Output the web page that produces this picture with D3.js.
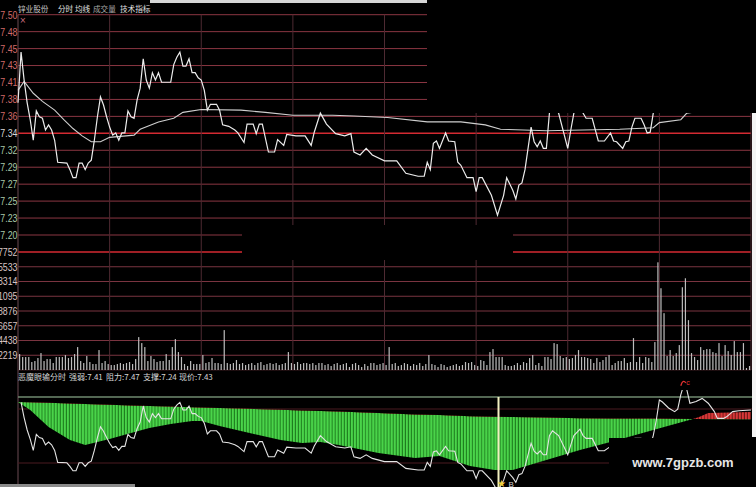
<!DOCTYPE html>
<html><head><meta charset="utf-8">
<script src="https://cdn.jsdelivr.net/npm/d3@7"></script>
<style>
html,body{margin:0;padding:0;background:#000;overflow:hidden;}
svg{display:block;}
</style></head><body>
<svg id="c" width="756" height="487"></svg>
<script>
// ---------------- data ----------------
const titleItems = ["锌业股份","分时","均线","成交量","技术指标"];
const indTitle = ["恶魔眼输分时","强弱:7.41","阻力:7.47","支撑:7.24","现价:7.43"];
const priceLabels = ["7.50","7.48","7.45","7.43","7.41","7.38","7.36","7.34","7.32","7.29","7.27","7.25","7.23","7.20"];
const prevCloseLabel = "7.34";
const volumeTicks = [2219,4438,6657,8876,11095,13314,15533,17752];
const timeTicks = [0,30,60,90,120,150,180,210,240];

const priceMinutes = [0,1,2,3,4,5,6,7,8,9,10,11,12,13,16,17,18,19,20,21,22,23,24,25,26,27,28,29,30,31,32,33,34,35,36,37,38,39,40,41,42,43,44,45,46,47,50,51,52,53,54,55,56,57,58,59,60,61,62,63,65,66,67,69,71,72,74,75,77,78,79,80,82,84,85,87,88,91,94,96,97,99,101,104,107,109,110,112,114,116,120,124,127,131,133,134,135,136,137,138,140,141,143,144,145,147,149,150,151,152,155,157,159,160,162,163,164,165,166,168,169,170,171,172,173,174,175,177,180,181,182,184,185,186,188,190,192,194,195,196,198,199,200,201,202,204,205,206,207,208,209,210,211,213,215,216,217,218,219,220,222,223,224,226,228,229,231,232,234,236,240];
const priceValues = [7.380,7.449,7.411,7.380,7.357,7.329,7.369,7.361,7.359,7.343,7.350,7.343,7.329,7.299,7.298,7.289,7.278,7.278,7.298,7.298,7.289,7.298,7.302,7.329,7.361,7.388,7.377,7.361,7.347,7.336,7.339,7.329,7.339,7.339,7.369,7.361,7.359,7.384,7.400,7.440,7.411,7.400,7.421,7.411,7.421,7.408,7.408,7.432,7.442,7.449,7.430,7.430,7.440,7.421,7.421,7.414,7.411,7.397,7.370,7.378,7.378,7.370,7.350,7.348,7.343,7.339,7.326,7.351,7.351,7.338,7.351,7.351,7.313,7.313,7.330,7.322,7.337,7.335,7.335,7.322,7.340,7.366,7.351,7.338,7.335,7.338,7.313,7.309,7.318,7.309,7.301,7.301,7.284,7.280,7.280,7.299,7.289,7.325,7.328,7.318,7.339,7.328,7.327,7.299,7.295,7.278,7.278,7.259,7.278,7.278,7.254,7.227,7.254,7.278,7.261,7.249,7.268,7.271,7.289,7.347,7.327,7.320,7.328,7.318,7.318,7.366,7.378,7.366,7.318,7.343,7.366,7.382,7.366,7.359,7.359,7.328,7.328,7.339,7.328,7.327,7.318,7.327,7.328,7.347,7.359,7.359,7.350,7.339,7.340,7.366,7.405,7.455,7.450,7.435,7.426,7.432,7.468,7.493,7.480,7.447,7.451,7.455,7.459,7.447,7.426,7.409,7.409,7.413,7.426,7.428,7.430];

const avgMinutes = [0,2,5,8,12,15,18,21,24,27,30,38,40,46,51,54,60,73,81,90,103,110,121,134,145,153,158,173,197,208,210,217,219,230,240];
const avgValues = [7.397,7.409,7.393,7.382,7.370,7.357,7.345,7.335,7.327,7.327,7.333,7.336,7.344,7.354,7.359,7.367,7.371,7.370,7.367,7.363,7.363,7.362,7.360,7.354,7.354,7.350,7.344,7.342,7.344,7.346,7.353,7.357,7.366,7.373,7.377];

const volumes = [
2400,1950,1950,1950,1200,1350,1800,2550,1350,1650,
1650,1050,1950,1950,1950,2250,1800,1950,2400,3450,
1350,1050,2100,1200,900,900,3000,1050,1350,900,
750,750,900,1050,900,1050,1200,900,1650,4950,
4050,3450,1350,2100,1650,1200,1350,1350,2400,1500,
3450,4650,2700,1950,900,600,1350,900,900,
900,2250,1050,1200,1800,1050,1050,900,6000,1050,
900,1050,1500,900,1050,750,900,1050,750,1050,
1200,750,900,1050,900,1050,750,900,1050,2700,
1050,900,1200,900,1050,1050,900,1050,750,1050,
1050,750,900,600,900,1050,750,900,1050,450,
900,1050,750,450,900,600,1050,1050,750,900,
1050,750,3450,900,1050,600,750,1050,900,600,
900,750,1050,600,900,2250,900,750,450,900,
750,450,600,750,900,600,750,1200,1050,1200,
750,600,1500,1350,750,2700,3150,1950,1950,
1950,750,600,600,750,1050,750,1200,1050,1800,
2250,750,1050,600,1950,1950,1650,4050,3900,2100,
1800,1950,1650,1800,2250,3000,1950,1950,1800,1650,
1050,1800,1200,1500,1950,2250,750,1050,1350,1350,
1800,1050,1200,4800,1200,1950,1050,1950,1800,1200,
4200,16200,12300,8550,2100,3000,2100,2550,3750,12450,
13800,7500,2550,1950,1500,3450,3000,3150,3150,2700,
2550,4050,2100,3750,2850,2250,4350,2700,2700,4050,
300,600,450];

const indMinutes = [0,4,10,17,22,30,37,43,50,57,60,66,73,86,93,99,105,118,130,138,148,156,162,173,184,194,208,221,223,226,240];
const indUpper = [7.450,7.4495,7.448,7.446,7.445,7.443,7.4415,7.440,7.4385,7.437,7.436,7.435,7.4335,7.4305,7.429,7.4275,7.4265,7.4225,7.419,7.4175,7.4145,7.413,7.4125,7.411,7.4095,7.4085,7.409,7.4075,7.4073,7.407,7.406];
const indLower = [7.450,7.430,7.3875,7.355,7.3425,7.3575,7.3725,7.385,7.395,7.4025,7.4025,7.390,7.3775,7.355,7.3475,7.350,7.3425,7.3225,7.310,7.315,7.290,7.280,7.280,7.305,7.330,7.350,7.380,7.4075,7.4125,7.4225,7.425];
const indLevels = [7.4625,7.4325,7.2975];
const signalMinute = 157;
const peakMinute = 218;

// ---------------- scales ----------------
const svg = d3.select("#c");
const x = d3.scaleLinear().domain([0,240]).range([18,751]);
const yP = d3.scaleLinear().domain([7.20,7.50]).range([235,14.7]);
const yLab = d3.scalePoint().domain(priceLabels).range([14.7,235]);
const yV = d3.scaleLinear().domain([0,17752]).range([370,252]);
const yI = d3.scaleLinear().domain([7.45,7.2375]).range([402,487]);

svg.append("rect").attr("width",756).attr("height",487).attr("fill","#000");

const defs = svg.append("defs");
const step = x(1)-x(0);
function stripe(id, dark, bright){
  const p = defs.append("pattern").attr("id",id).attr("patternUnits","userSpaceOnUse")
    .attr("x",x(0)).attr("y",0).attr("width",step).attr("height",20);
  p.append("rect").attr("width",step).attr("height",20).attr("fill",dark);
  p.append("rect").attr("width",step*0.68).attr("height",20).attr("fill",bright);
}
stripe("gS","#1e7d1e","#4ad44a");
stripe("rS","#701818","#d83838");
defs.append("clipPath").attr("id","indClip").append("rect").attr("x",18).attr("y",390).attr("width",738).attr("height",97);
const upPts = indMinutes.map((m,i)=>[m,indUpper[i]]);
defs.append("clipPath").attr("id","belowA").append("path")
  .attr("d", d3.area().x(d=>x(d[0])).y0(487).y1(d=>yI(d[1]))(upPts));
defs.append("clipPath").attr("id","aboveA").append("path")
  .attr("d", d3.area().x(d=>x(d[0])).y0(390).y1(d=>yI(d[1]))(upPts));

// ---------------- grid ----------------
const grid = svg.append("g");
grid.selectAll(".pl").data(priceLabels).join("line")
  .attr("x1",18).attr("x2",751).attr("y1",d=>yLab(d)).attr("y2",d=>yLab(d))
  .attr("stroke",d=>d===prevCloseLabel?"#d42a32":"#8a3642")
  .attr("stroke-width",d=>d===prevCloseLabel?1.6:1);
grid.selectAll(".vl").data(volumeTicks).join("line")
  .attr("x1",18).attr("x2",751).attr("y1",d=>yV(d)).attr("y2",d=>yV(d))
  .attr("stroke",d=>d===17752?"#d42a32":"#7a3440")
  .attr("stroke-width",d=>d===17752?1.6:1);
grid.append("line").attr("x1",18).attr("x2",751).attr("y1",370).attr("y2",370).attr("stroke","#3a1a1e");
grid.selectAll(".tl").data(timeTicks).join("line")
  .attr("x1",d=>x(d)).attr("x2",d=>x(d)).attr("y1",14.7).attr("y2",d=>d===0?487:370)
  .attr("stroke",d=>d===0?"#6a4a52":"#4e2a32").attr("stroke-width",1);

// indicator level lines
svg.selectAll(".il").data(indLevels).join("line")
  .attr("x1",18).attr("x2",756).attr("y1",d=>yI(d)).attr("y2",d=>yI(d))
  .attr("stroke",(d,i)=>i===0?"#6f8a6f":"#4a1a20").attr("stroke-width",(d,i)=>i===0?1.3:1);

// ---------------- axis labels (narrow digits, left part cut by the edge as in the screenshot) ----------------
const sx = 0.8;
const labG = svg.append("g").attr("transform",`scale(${sx},1)`);
labG.selectAll(".plab").data(priceLabels).join("text")
  .attr("x",17.5/sx).attr("y",d=>yLab(d)).attr("dy","0.36em").attr("text-anchor","end")
  .attr("font-family","Liberation Sans, Arial, sans-serif").attr("font-size",11)
  .attr("fill",d=>d===prevCloseLabel?"#d8d8d8":(+d>+prevCloseLabel?"#d06a6a":"#a8c8a8"))
  .text(d=>d);
labG.selectAll(".vlab").data(volumeTicks).join("text")
  .attr("x",17.5/sx).attr("y",d=>yV(d)).attr("dy","0.36em").attr("text-anchor","end")
  .attr("font-family","Liberation Sans, Arial, sans-serif").attr("font-size",11)
  .attr("fill","#d8c4c4").text(d=>String(d));

// ---------------- volume bars ----------------
svg.append("g").selectAll("rect").data(volumes).join("rect")
  .attr("x",(d,i)=>x(i)+1).attr("width",1.2)
  .attr("y",d=>yV(d)).attr("height",d=>370-yV(d)).attr("fill","#bdbdbd");

// ---------------- price & average ----------------
const pricePts = priceMinutes.map((m,i)=>[m,priceValues[i]]);
const avgPts = avgMinutes.map((m,i)=>[m,avgValues[i]]);
svg.append("path").attr("d",d3.line().x(d=>x(d[0])).y(d=>yP(d[1]))(avgPts))
  .attr("fill","none").attr("stroke","#cfcfcf").attr("stroke-width",1.1);
svg.append("path").attr("d",d3.line().x(d=>x(d[0])).y(d=>yP(d[1]))(pricePts))
  .attr("fill","none").attr("stroke","#ececec").attr("stroke-width",1.2);

// ---------------- indicator ----------------
const band = indMinutes.map((m,i)=>[m,indUpper[i],indLower[i]]);
const bandArea = d3.area().x(d=>x(d[0])).y0(d=>yI(d[1])).y1(d=>yI(d[2]));
const ig = svg.append("g").attr("clip-path","url(#indClip)");
ig.append("g").attr("clip-path","url(#belowA)").append("path").attr("d",bandArea(band)).attr("fill","url(#gS)");
ig.append("g").attr("clip-path","url(#aboveA)").append("path").attr("d",bandArea(band)).attr("fill","url(#rS)");
ig.append("path").attr("d",d3.line().x(d=>x(d[0])).y(d=>yI(d[1]))(pricePts.slice(1)))
  .attr("fill","none").attr("stroke","#e4e4e4").attr("stroke-width",1.1);
// signal line
svg.append("line").attr("x1",x(signalMinute)+1).attr("x2",x(signalMinute)+1).attr("y1",yI(indLevels[0])).attr("y2",487)
  .attr("stroke","#f2f0c0").attr("stroke-width",2);
svg.append("text").attr("x",x(signalMinute)+4).attr("y",487).attr("text-anchor","middle")
  .attr("font-size",10).attr("fill","#f0d040").attr("font-family","DejaVu Sans").text("★");
svg.append("text").attr("x",x(signalMinute)+11).attr("y",487)
  .attr("font-size",8).attr("fill","#d0d0d0").attr("font-family","Liberation Sans").text("B");
// peak mark
const px = x(peakMinute), py = yI(priceValues[priceMinutes.indexOf(peakMinute)]);
svg.append("path").attr("d",`M${px-3},${py+1} Q${px-1},${py-6} ${px+2},${py-2}`)
  .attr("fill","none").attr("stroke","#e03030").attr("stroke-width",1.3);
svg.append("text").attr("x",px+2.5).attr("y",py).attr("font-size",7).attr("fill","#e03030")
  .attr("font-family","Liberation Sans").text("c");

// ---------------- titles ----------------
const titleX = [18,58,75,93,120];
const titleCol = ["#c8c8c8","#e0e0e0","#e0e0e0","#a8a8a8","#e0e0e0"];
svg.selectAll(".tt").data(titleItems).join("text")
  .attr("x",(d,i)=>titleX[i]).attr("y",11.5)
  .attr("font-family","Noto Sans CJK SC, sans-serif").attr("font-size",7.6)
  .attr("fill",(d,i)=>titleCol[i]).text(d=>d);
const indX = [18,69,106,143,179];
svg.selectAll(".it").data(indTitle).join("text")
  .attr("x",(d,i)=>indX[i]).attr("y",380)
  .attr("font-family","Noto Sans CJK SC, sans-serif").attr("font-size",8)
  .attr("fill","#d4d4d4").text(d=>d);
svg.append("text").attr("x",19.5).attr("y",23).attr("font-size",8).attr("fill","#d07080")
  .attr("font-family","DejaVu Sans").text("×");

// ---------------- screenshot overlays ----------------
svg.append("rect").attr("x",150).attr("y",0).attr("width",277).attr("height",3).attr("fill","#d6d6d6");
svg.append("rect").attr("x",427).attr("y",0).attr("width",329).attr("height",113).attr("fill","#000");
svg.append("rect").attr("x",242).attr("y",225).attr("width",271).attr("height",35).attr("fill","#000");
svg.append("rect").attr("x",752).attr("y",113).attr("width",4).attr("height",324).attr("fill","#f4f4f4");
svg.append("rect").attr("x",609).attr("y",438).attr("width",147).attr("height",49).attr("fill","#000");
svg.append("text").attr("x",683).attr("y",467).attr("text-anchor","middle")
  .attr("font-family","Liberation Sans, Arial, sans-serif").attr("font-weight","bold").attr("font-size",13)
  .attr("fill","#e6e6e6").text("www.7gpzb.com");
svg.append("rect").attr("x",0).attr("y",484).attr("width",135).attr("height",3).attr("fill","#8a8a8a");
</script>
</body></html>
